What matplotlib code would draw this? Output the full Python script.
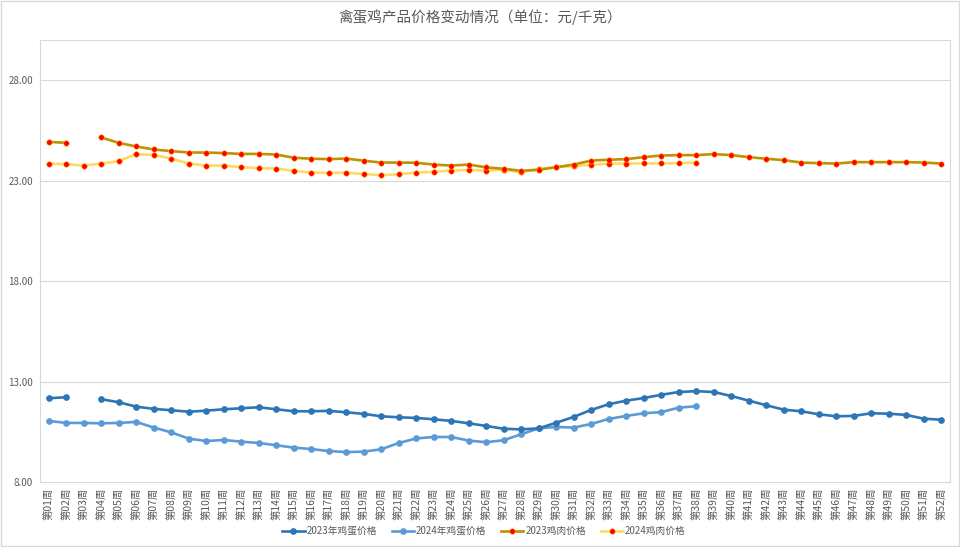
import numpy as np
import matplotlib
matplotlib.use("Agg")
import matplotlib.pyplot as plt
from matplotlib.patches import Rectangle

plt.rcParams['font.family'] = ['Noto Sans CJK SC', 'DejaVu Sans']

nan = np.nan
weeks = [f"第{i:02d}周" for i in range(1, 53)]

egg_2023 = [12.17, 12.22, nan, 12.12, 11.97, 11.75, 11.64, 11.57, 11.50, 11.55,
            11.62, 11.67, 11.72, 11.62, 11.52, 11.52, 11.54, 11.47, 11.39, 11.27,
            11.22, 11.19, 11.12, 11.04, 10.92, 10.79, 10.65, 10.62, 10.67, 10.95,
            11.24, 11.59, 11.87, 12.05, 12.18, 12.34, 12.48, 12.52, 12.48, 12.28,
            12.05, 11.82, 11.60, 11.52, 11.37, 11.27, 11.29, 11.42, 11.40, 11.34,
            11.15, 11.10]
egg_2024 = [11.04, 10.94, 10.94, 10.92, 10.94, 10.99, 10.71, 10.47, 10.16, 10.04,
            10.09, 10.01, 9.94, 9.83, 9.71, 9.64, 9.54, 9.49, 9.51, 9.63,
            9.94, 10.17, 10.24, 10.24, 10.06, 9.98, 10.08, 10.38, 10.67, 10.74,
            10.71, 10.89, 11.14, 11.29, 11.42, 11.48, 11.70, 11.77] + [nan] * 14
chicken_2023 = [24.93, 24.88, nan, 25.15, 24.88, 24.70, 24.55, 24.47, 24.40, 24.40,
                24.37, 24.33, 24.33, 24.30, 24.14, 24.09, 24.07, 24.10, 23.99, 23.90,
                23.90, 23.89, 23.80, 23.75, 23.80, 23.66, 23.59, 23.49, 23.54, 23.67,
                23.80, 24.00, 24.04, 24.07, 24.17, 24.25, 24.27, 24.27, 24.32, 24.27,
                24.17, 24.09, 24.02, 23.90, 23.87, 23.85, 23.92, 23.92, 23.92, 23.92,
                23.90, 23.85]
chicken_2024 = [23.85, 23.82, 23.75, 23.85, 23.97, 24.32, 24.27, 24.10, 23.85, 23.75,
                23.75, 23.67, 23.62, 23.60, 23.49, 23.40, 23.39, 23.39, 23.33, 23.27,
                23.32, 23.40, 23.44, 23.50, 23.54, 23.50, 23.54, 23.42, 23.58, 23.67,
                23.72, 23.79, 23.85, 23.85, 23.86, 23.86, 23.87, 23.90] + [nan] * 14

y_ticks = [8, 13, 18, 23, 28]

fig = plt.figure(figsize=(9.6, 5.47), dpi=100)
ax = fig.add_axes([40/960, 1 - 482/547, 910/960, 442/547])

x = np.arange(1, 53)
ax.plot(x, egg_2023, color='#2E75B6', lw=1.9, marker='o', ms=3.8,
        label='2023年鸡蛋价格', zorder=4)
ax.plot(x, egg_2024, color='#5B9BD5', lw=1.9, marker='o', ms=3.8,
        label='2024年鸡蛋价格', zorder=3)
ax.plot(x, chicken_2023, color='#BF9000', lw=1.9, marker='o', ms=4.0,
        mfc='#FF0000', mec='#FFC000', mew=0.4, label='2023鸡肉价格', zorder=4)
ax.plot(x, chicken_2024, color='#FFD966', lw=1.9, marker='o', ms=4.0,
        mfc='#FF0000', mec='#FFC000', mew=0.4, label='2024鸡肉价格', zorder=3)

ax.set_xlim(0.5, 52.5)
ax.set_ylim(8, 30)
ax.set_yticks(y_ticks)
ax.set_yticklabels([f"{v:.2f}" for v in y_ticks], fontsize=7, color='#595959')
ax.set_xticks(x)
ax.set_xticklabels(weeks, rotation=90, fontsize=7.5, color='#595959')
ax.tick_params(axis='y', length=0, pad=5)
ax.tick_params(axis='x', length=0, pad=4)
ax.grid(axis='y', color='#D9D9D9', lw=0.8)
ax.set_axisbelow(True)
for s in ax.spines.values():
    s.set_color('#D9D9D9')
    s.set_linewidth(0.8)

fig.suptitle('禽蛋鸡产品价格变动情况（单位：元/千克）', y=1 - 17/547, va='center',
             fontsize=10.5, color='#595959')

leg = fig.legend(loc='center', bbox_to_anchor=(484/960, 1 - 531/547), ncol=4,
                 frameon=False, fontsize=7, handlelength=2.3, columnspacing=1.5,
                 handletextpad=0.2)
for t in leg.get_texts():
    t.set_color('#595959')

fig.patches.append(Rectangle((0.001, 0.001), 0.998, 0.998, transform=fig.transFigure,
                             fill=False, edgecolor='#D9D9D9', lw=1))

fig.savefig('out.png', dpi=100)
